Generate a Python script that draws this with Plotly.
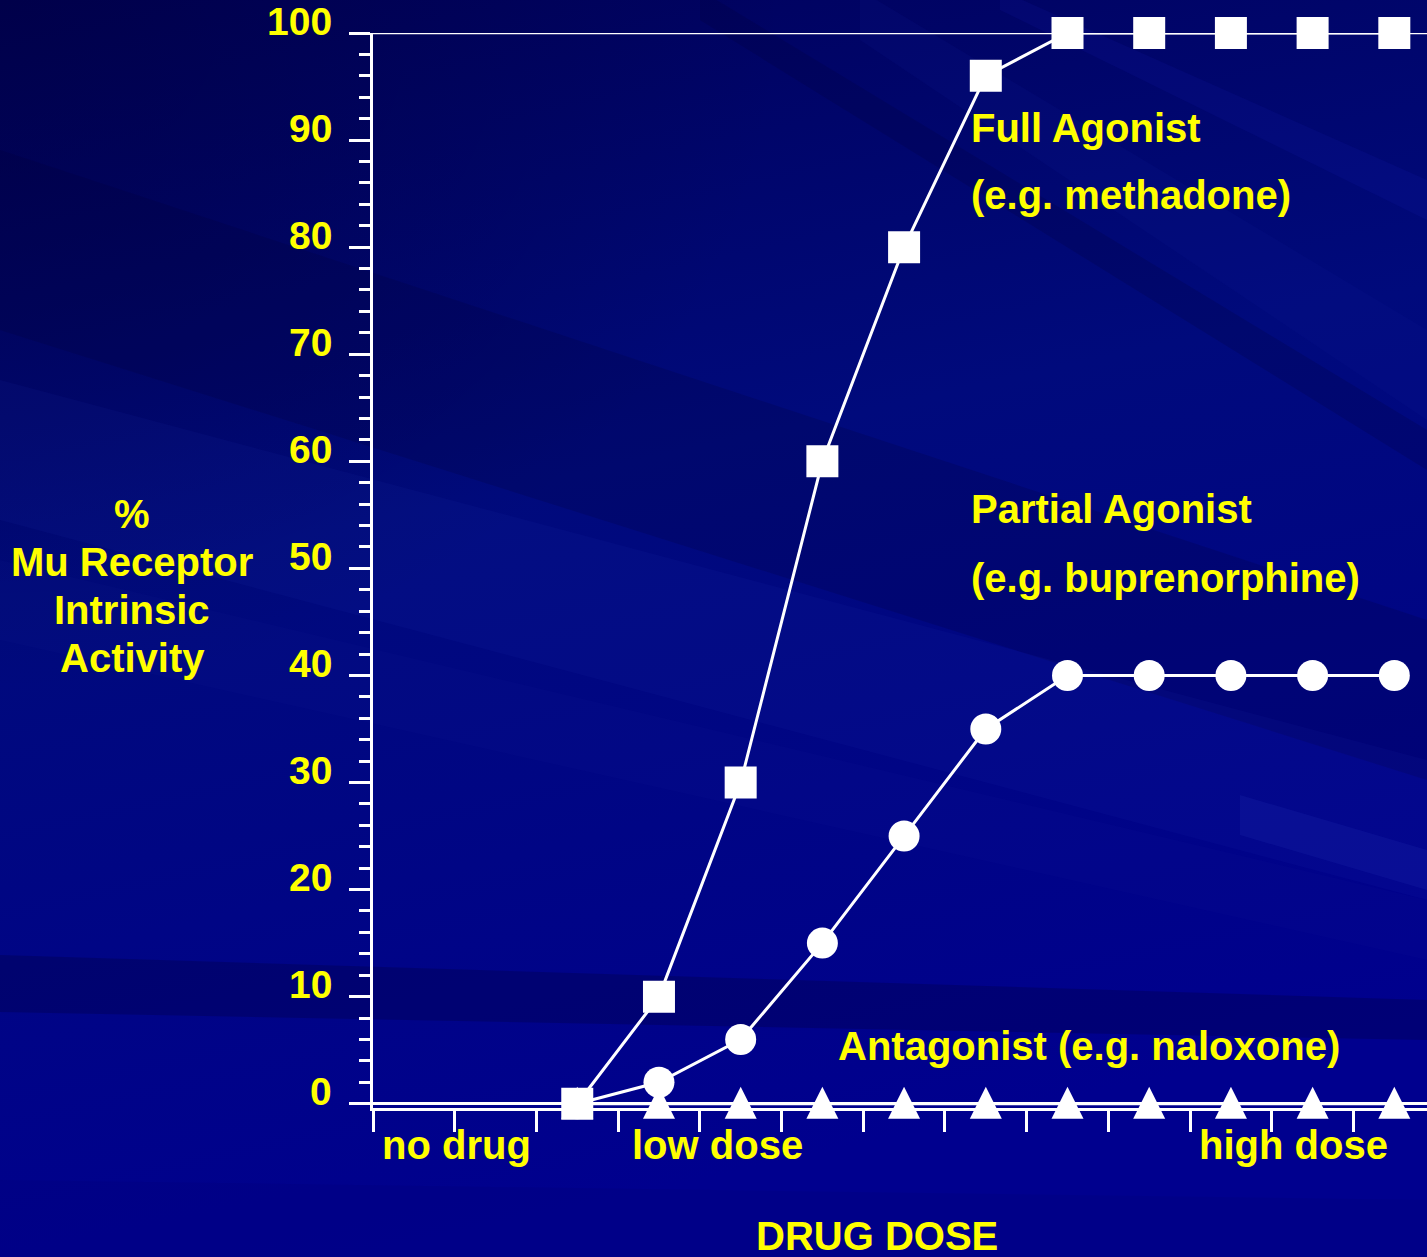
import base64
import plotly.graph_objects as go

# ---------------- data ----------------
dose_pos = [2.5, 3.5, 4.5, 5.5, 6.5, 7.5, 8.5, 9.5, 10.5, 11.5, 12.5]
full_agonist = [0, 10, 30, 60, 80, 96, 100, 100, 100, 100, 100]
partial_agonist = [0, 2, 6, 15, 25, 35, 40, 40, 40, 40, 40]
antagonist = [0, 0, 0, 0, 0, 0, 0, 0, 0, 0, 0]

y_ticks = [0, 10, 20, 30, 40, 50, 60, 70, 80, 90, 100]
y_tick_text = ["0", "10", "20", "30", "40", "50", "60", "70", "80", "90", "100"]
x_ticks = [0, 1, 2, 3, 4, 5, 6, 7, 8, 9, 10, 11, 12]

dose_labels = ["no drug", "low dose", "high dose"]
dose_label_x = [1.02, 4.22, 11.26]

y_title_lines = ["%", "Mu Receptor", "Intrinsic", "Activity"]

series_labels = ["Full Agonist", "(e.g. methadone)", "Partial Agonist",
                 "(e.g. buprenorphine)", "Antagonist (e.g. naloxone)"]
series_label_x = [7.30, 7.30, 7.30, 7.30, 5.67]
series_label_y = [91.1, 84.9, 55.5, 49.1, 5.4]

# ---------------- layout geometry ----------------
W, H = 1427, 1257
ML, MR, MT, MB = 373, 0, 33, 149
PW, PH = W - ML - MR, H - MT - MB

YELLOW = "#ffff00"
FONT = "Liberation Sans, Arial, sans-serif"
FS = 40
FS_TICK = 39

# ---------------- background (SVG image) ----------------
def band(x0, ya0, yb0, x1, ya1, yb1, color, op):
    return (f"<polygon points='{x0},{ya0} {x1},{ya1} {x1},{yb1} {x0},{yb0}' "
            f"fill='{color}' fill-opacity='{op}'/>")

svg = [f"<svg xmlns='http://www.w3.org/2000/svg' width='{W}' height='{H}' viewBox='0 0 {W} {H}'>",
       "<defs>",
       "<linearGradient id='g' x1='0' y1='0' x2='0.25' y2='1'>",
       "<stop offset='0' stop-color='#000058'/>",
       "<stop offset='0.45' stop-color='#000a7c'/>",
       "<stop offset='1' stop-color='#00008e'/>",
       "</linearGradient>",
       "<radialGradient id='r' cx='0' cy='0' r='1' gradientUnits='objectBoundingBox'>",
       "<stop offset='0' stop-color='#000030' stop-opacity='0.35'/>",
       "<stop offset='0.55' stop-color='#000030' stop-opacity='0'/>",
       "</radialGradient>",
       "</defs>",
       f"<rect width='{W}' height='{H}' fill='url(#g)'/>",
       f"<rect width='{W}' height='{H}' fill='url(#r)'/>",
       band(0, 150, 330, W, 620, 780, '#000030', 0.18),
       band(0, 380, 520, W, 760, 900, '#2a3ac0', 0.08),
       band(0, 560, 640, W, 900, 960, '#2030b0', 0.06),
       band(0, 955, 1012, W, 1000, 1040, '#000040', 0.30),
       band(0, 1180, 1257, W, 1200, 1257, '#000060', 0.12),
       band(1240, 795, 835, W, 850, 890, '#3a48d0', 0.12),
       band(860, -10, 40, W, 330, 420, '#1020a0', 0.12),
       band(700, -10, 20, W, 430, 470, '#000030', 0.18),
       band(1000, -10, 10, W, 180, 220, '#1a2ad0', 0.10),
       "</svg>"]
svg_uri = "data:image/svg+xml;base64," + base64.b64encode("".join(svg).encode()).decode()

# ---------------- figure ----------------
fig = go.Figure()

line_style = dict(color="white", width=3)

fig.add_trace(go.Scatter(
    x=dose_pos, y=antagonist, mode="lines+markers", line=line_style,
    marker=dict(symbol="arrow-down", size=32, color="white", angle=180, standoff=17,
                line=dict(width=0)),
    cliponaxis=False, showlegend=False, hoverinfo="skip"))

fig.add_trace(go.Scatter(
    x=dose_pos, y=partial_agonist, mode="lines+markers", line=line_style,
    marker=dict(symbol="circle", size=31, color="white", line=dict(width=0)),
    cliponaxis=False, showlegend=False, hoverinfo="skip"))

fig.add_trace(go.Scatter(
    x=dose_pos, y=full_agonist, mode="lines+markers", line=line_style,
    marker=dict(symbol="square", size=32, color="white", line=dict(width=0)),
    cliponaxis=False, showlegend=False, hoverinfo="skip"))

annotations = []
# y tick labels (drawn as annotations so the top one isn't hidden)
for v, t in zip(y_ticks, y_tick_text):
    annotations.append(dict(text=t, x=(334 - ML) / PW, y=v, xref="paper", yref="y",
                            xanchor="right", yanchor="middle", yshift=12, showarrow=False,
                            font=dict(family=FONT, size=FS_TICK, color=YELLOW, weight="bold")))
for t, x, y in zip(series_labels, series_label_x, series_label_y):
    annotations.append(dict(text=t, x=x, y=y, xref="x", yref="y", xanchor="left",
                            yanchor="middle", showarrow=False,
                            font=dict(family=FONT, size=FS, color=YELLOW, weight="bold")))
for t, x in zip(dose_labels, dose_label_x):
    annotations.append(dict(text=t, x=x, y=(MT + PH - 1145) / PH, xref="x", yref="paper",
                            xanchor="center", yanchor="middle", showarrow=False,
                            font=dict(family=FONT, size=FS, color=YELLOW, weight="bold")))
annotations.append(dict(text="DRUG DOSE", x=6.17, y=(MT + PH - 1236) / PH, xref="x",
                        yref="paper", xanchor="center", yanchor="middle", showarrow=False,
                        font=dict(family=FONT, size=FS, color=YELLOW, weight="bold")))
for i, t in enumerate(y_title_lines):
    py = 514 + 48 * i
    annotations.append(dict(text=t, x=(132 - ML) / PW, y=(MT + PH - py) / PH, xref="paper",
                            yref="paper", xanchor="center", yanchor="middle", showarrow=False,
                            font=dict(family=FONT, size=FS, color=YELLOW, weight="bold")))

fig.update_layout(
    width=W, height=H,
    margin=dict(l=ML, r=MR, t=MT, b=MB, pad=0),
    paper_bgcolor="#000070",
    plot_bgcolor="rgba(0,0,0,0)",
    images=[dict(source=svg_uri, xref="paper", yref="paper",
                 x=-ML / PW, y=1 + MT / PH, sizex=W / PW, sizey=H / PH,
                 sizing="stretch", xanchor="left", yanchor="top", layer="below")],
    shapes=[dict(type="line", xref="paper", yref="y", x0=0, x1=1, y0=100, y1=100,
                 line=dict(color="white", width=2.5), layer="below")],
    annotations=annotations,
    xaxis=dict(range=[0, 12.9], showgrid=False, zeroline=False,
               showline=True, linecolor="white", linewidth=3,
               ticks="outside", ticklen=21, tickwidth=3, tickcolor="white",
               tickvals=x_ticks, showticklabels=False, fixedrange=True),
    yaxis=dict(range=[-0.4, 100], showgrid=False,
               zeroline=True, zerolinecolor="white", zerolinewidth=3,
               showline=True, linecolor="white", linewidth=3,
               ticks="outside", ticklen=21, tickwidth=3, tickcolor="white",
               tickvals=y_ticks, showticklabels=False,
               minor=dict(dtick=2, ticks="outside", ticklen=11, tickwidth=3,
                          tickcolor="white", showgrid=False),
               fixedrange=True),
)

fig.write_html("out.html", config={"displayModeBar": False},
               post_script="document.body.style.margin='0';document.body.style.padding='0';"
                           "document.body.style.overflow='hidden';")
